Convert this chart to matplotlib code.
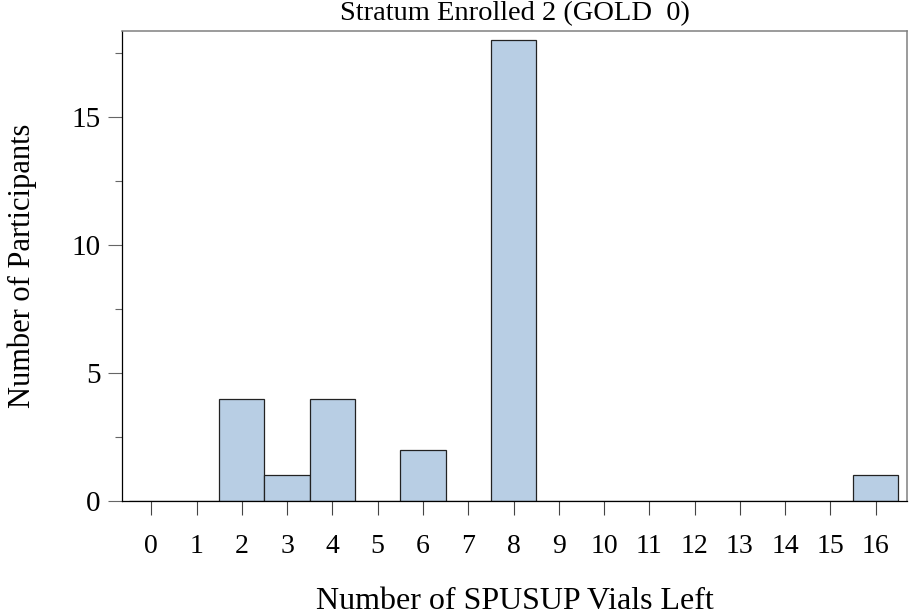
import numpy as np
import matplotlib
matplotlib.use("Agg")
import matplotlib.pyplot as plt
from matplotlib.ticker import MultipleLocator

# vials left per participant, counts per value
vials_left = [0, 1, 2, 3, 4, 5, 6, 7, 8, 9, 10, 11, 12, 13, 14, 15, 16]
participants = [0, 0, 4, 1, 4, 0, 2, 0, 18, 0, 0, 0, 0, 0, 0, 0, 1]
tick_labels = [str(v) for v in vials_left]

plt.rcParams['font.family'] = ['Liberation Serif', 'DejaVu Serif']

fig = plt.figure(figsize=(9.09, 6.14), dpi=100)
ax = fig.add_axes([0.1342, 0.1840, 0.8641, 0.7655])

ax.bar(vials_left, participants, width=1.0, color='#b8cee4',
       edgecolor='#222222', linewidth=0.9, zorder=2)

ax.set_xlim(-0.647, 16.70)
ax.set_ylim(0, 18.37)

ax.set_xticks(vials_left)
ax.set_xticklabels(tick_labels)
ax.yaxis.set_major_locator(MultipleLocator(5))
ax.yaxis.set_minor_locator(MultipleLocator(2.5))

ax.tick_params(axis='x', which='major', length=10, width=0.8, color='#444444',
               pad=14, labelsize=20)
ax.tick_params(axis='y', which='major', length=10, width=0.8, color='#666666',
               pad=5.5, labelsize=21)
ax.tick_params(axis='y', which='minor', length=5, width=0.8, color='#666666')

for side in ['left', 'bottom']:
    ax.spines[side].set_color('black')
    ax.spines[side].set_linewidth(0.9)
for side in ['top', 'right']:
    ax.spines[side].set_color('#808080')
    ax.spines[side].set_linewidth(1.1)

ax.set_xlabel('Number of SPUSUP Vials Left', fontsize=23)
ax.set_ylabel('Number of Participants', fontsize=22)
ax.xaxis.set_label_coords(0.5, -0.182)
ax.yaxis.set_label_coords(-0.108, 0.5)
ax.set_title('Stratum Enrolled 2 (GOLD  0)', fontsize=20.5, pad=8)

fig.savefig('out.png', dpi=100)
